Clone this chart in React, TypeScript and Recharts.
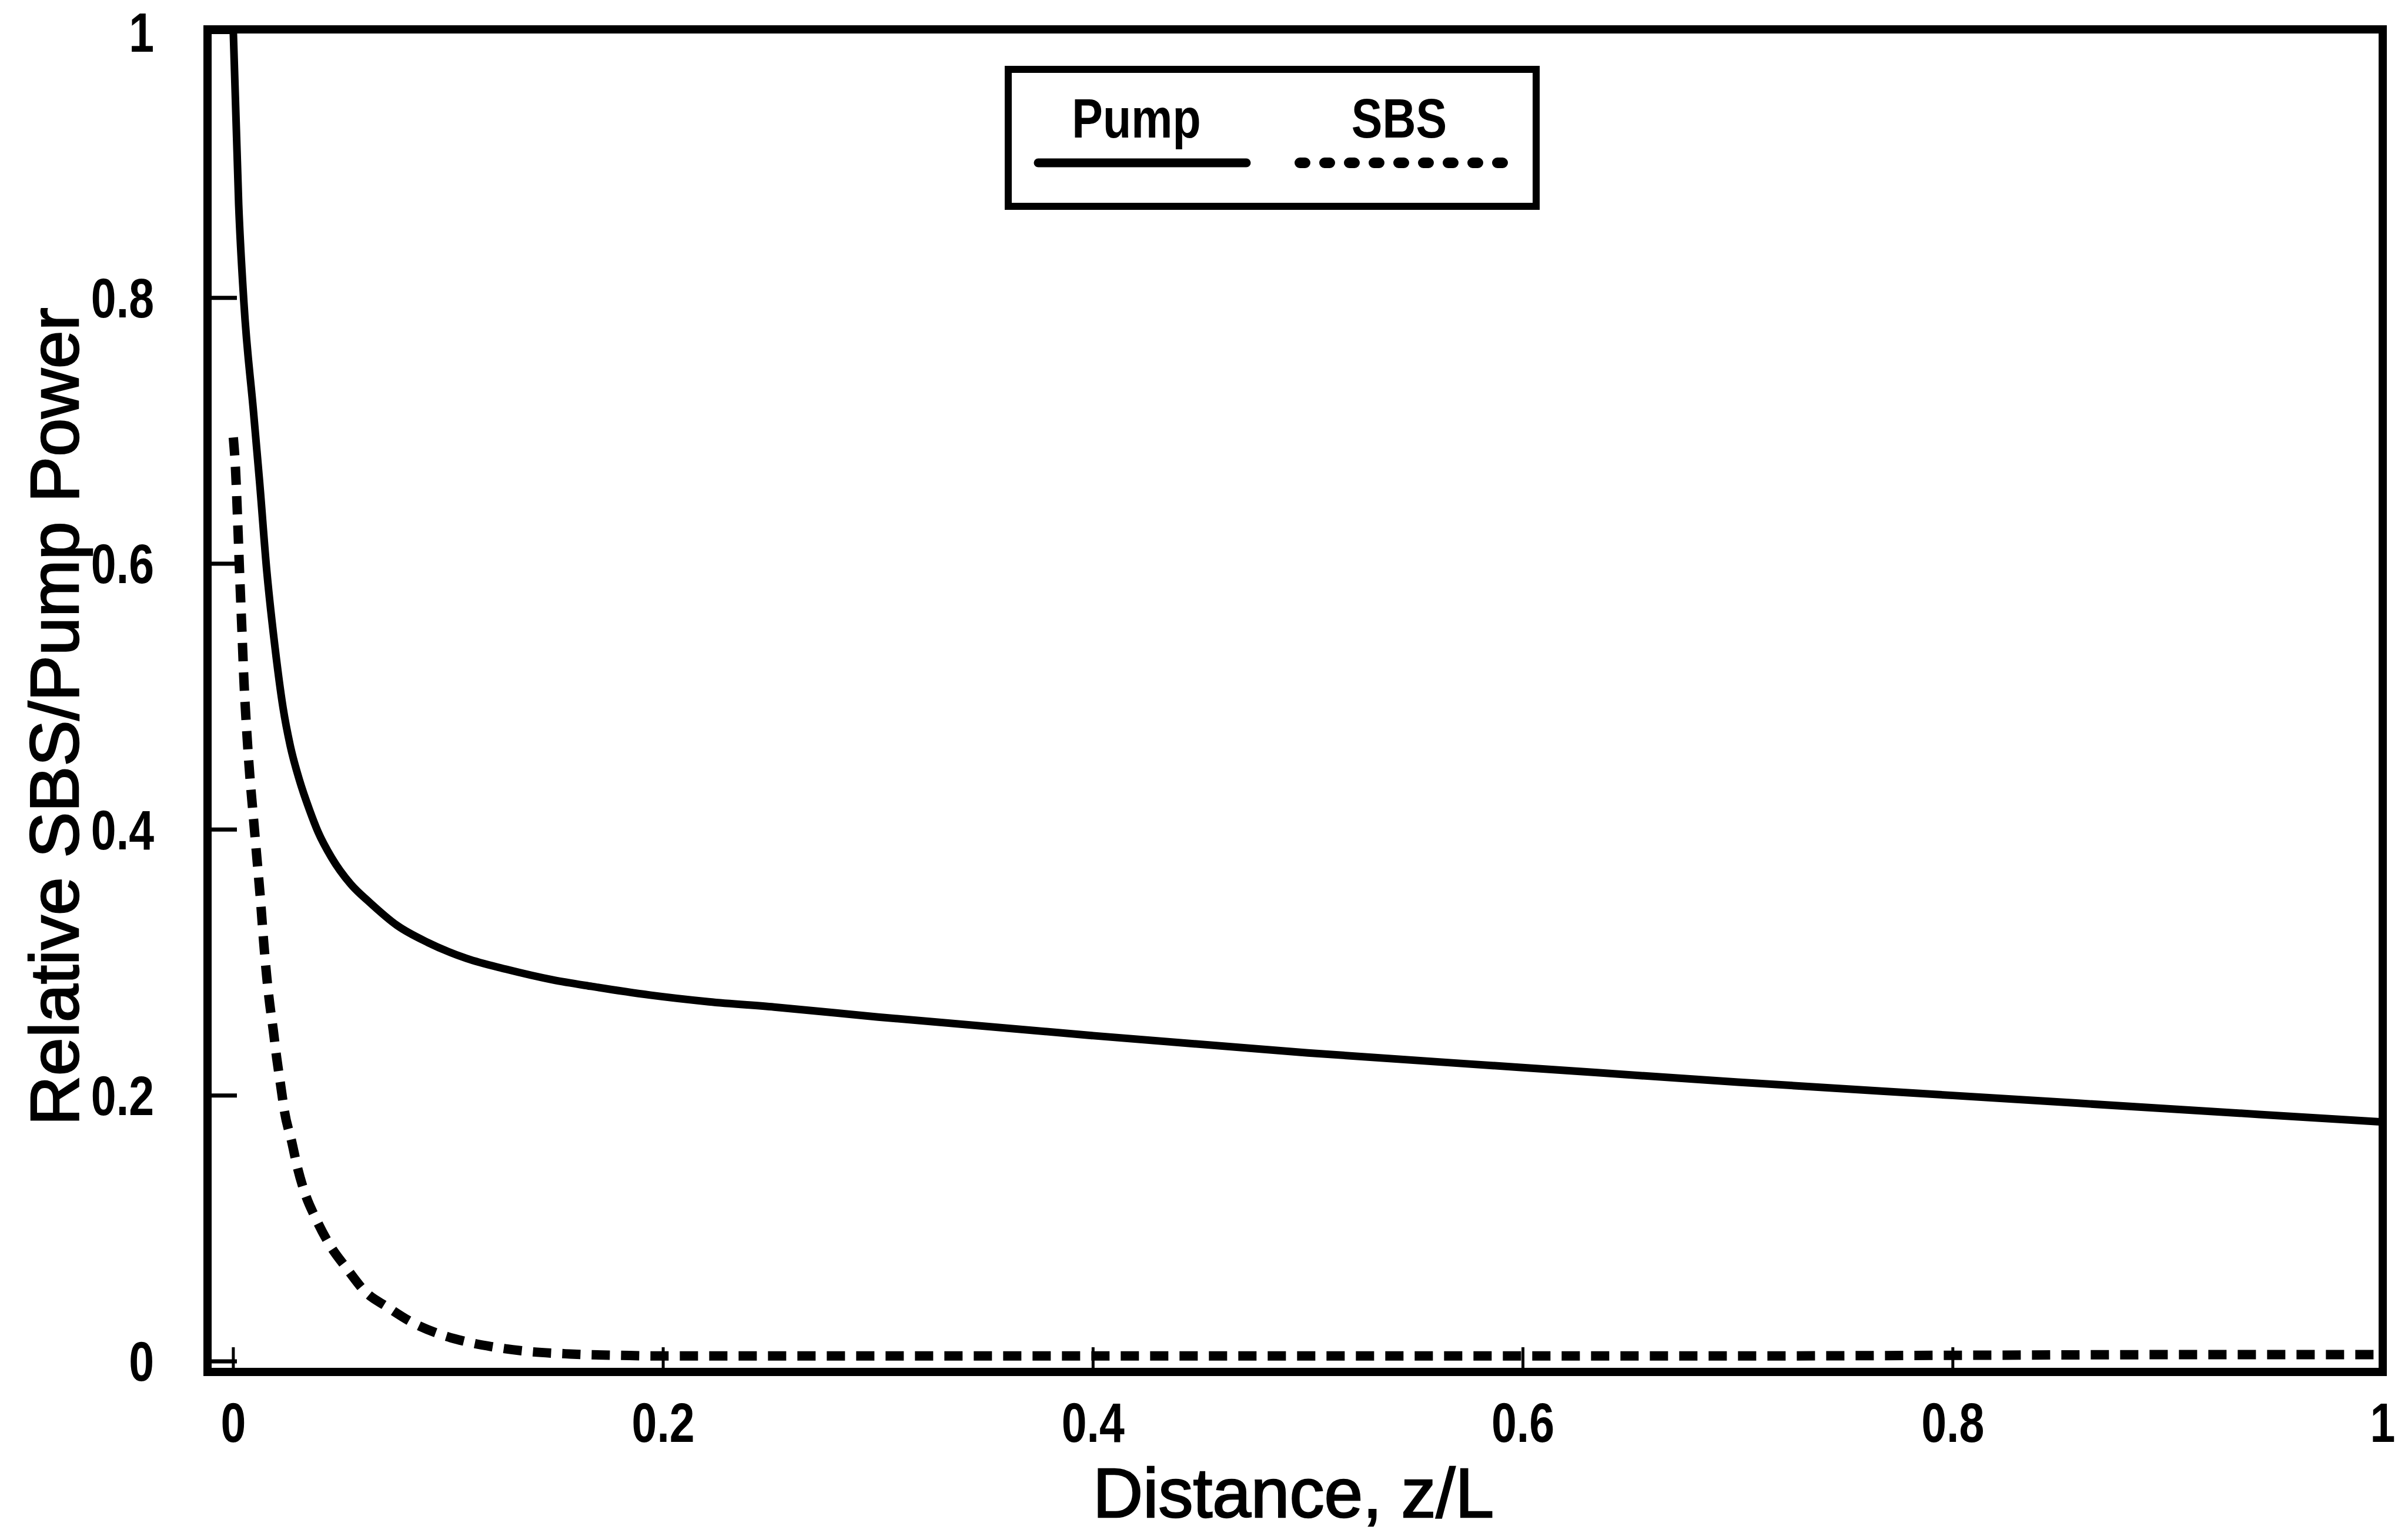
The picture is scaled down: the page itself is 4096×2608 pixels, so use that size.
import React from "react";
import { LineChart, Line, XAxis, YAxis, ReferenceArea, Legend, Label } from "recharts";

// values (z/L vs relative power)
const pumpX = [0, 0.0025, 0.0049, 0.0094, 0.0122, 0.0156, 0.0194, 0.0231, 0.0265, 0.0308, 0.0354, 0.0395, 0.0457, 0.0546, 0.0636, 0.0761, 0.0906, 0.1086, 0.1268, 0.1485, 0.1668, 0.1939, 0.2212, 0.2516, 0.3, 0.4, 0.5, 0.6, 0.7, 0.8, 0.9, 1.0];
const pumpY = [1.0, 0.87, 0.797, 0.714, 0.662, 0.594, 0.537, 0.492, 0.463, 0.437, 0.415, 0.398, 0.379, 0.359, 0.345, 0.328, 0.315, 0.303, 0.295, 0.287, 0.282, 0.2755, 0.2705, 0.2665, 0.259, 0.245, 0.232, 0.221, 0.21, 0.2, 0.19, 0.18];

const sbsX = [0, 0.001, 0.002, 0.003, 0.004, 0.005, 0.0062, 0.0077, 0.0093, 0.011, 0.0125, 0.014, 0.0155, 0.017, 0.0186, 0.0202, 0.022, 0.0238, 0.0272, 0.0298, 0.0332, 0.0385, 0.0447, 0.0527, 0.0616, 0.0715, 0.0823, 0.095, 0.1077, 0.1203, 0.1367, 0.1567, 0.18, 0.2, 0.3, 0.4, 0.5, 0.6, 0.7, 0.8, 0.9, 1.0];
const sbsY = [0.695, 0.672, 0.633, 0.59, 0.55, 0.51, 0.475, 0.44, 0.41, 0.378, 0.35, 0.318, 0.29, 0.268, 0.249, 0.228, 0.208, 0.188, 0.165, 0.146, 0.127, 0.107, 0.088, 0.07, 0.052, 0.041, 0.03, 0.021, 0.015, 0.011, 0.0075, 0.0055, 0.0045, 0.004, 0.004, 0.004, 0.004, 0.004, 0.004, 0.0045, 0.005, 0.005];

const xTicks = [0, 0.2, 0.4, 0.6, 0.8, 1];
const yTicks = [0, 0.2, 0.4, 0.6, 0.8, 1];
const xDomain: [number, number] = [-0.012, 1];
const yDomain: [number, number] = [-0.008, 1.002];

const pumpData = pumpX.map((x, i) => ({ x, y: pumpY[i] }));
const sbsData = sbsX.map((x, i) => ({ x, y: sbsY[i] }));

const FONT = "'Liberation Sans', Arial, Helvetica, sans-serif";

const W = 4096;
const H = 2608;

// the figure uses a condensed Helvetica for numbers and legend, squeeze the regular face
const NarrowTick = (props: any) => {
    const { x, y, payload, textAnchor, verticalAnchor } = props;
    const dy = verticalAnchor === "start" ? "0.71em" : "0.355em";
    return (
        <text
            x={0}
            y={0}
            dy={dy}
            textAnchor={textAnchor}
            transform={`translate(${x},${y}) scale(0.82,1)`}
            style={{ fontFamily: FONT, fontSize: 94, fontWeight: 700, fill: "#000" }}
        >
            {`${payload.value}`}
        </text>
    );
};

// legend slots inside the framed box (text centre, sample start/end)
const legendSlots = [
    { cx: 224, x1: 57, x2: 411 },
    { cx: 671, x1: 502, x2: 850 },
];

const LegendBox = (props: any) => {
    const items = props.payload || [];
    return (
        <div
            style={{
                width: 910,
                height: 245,
                boxSizing: "border-box",
                border: "12px solid #000",
                background: "#fff",
                position: "relative",
            }}
        >
            <svg width={910} height={245} style={{ position: "absolute", left: -12, top: -12, overflow: "visible" }}>
                {items.map((item: any, i: number) => {
                    const slot = legendSlots[i];
                    if (!slot) return null;
                    const dashed = !!(item.payload && item.payload.strokeDasharray);
                    return (
                        <g key={item.value}>
                            <text
                                x={0}
                                y={0}
                                textAnchor="middle"
                                transform={`translate(${slot.cx},122) scale(0.84,1)`}
                                style={{ fontFamily: FONT, fontSize: 94, fontWeight: 700, fill: "#000" }}
                            >
                                {item.value}
                            </text>
                            <line
                                x1={slot.x1}
                                x2={slot.x2}
                                y1={165}
                                y2={165}
                                stroke="#000"
                                strokeWidth={dashed ? 18 : 15}
                                strokeLinecap="round"
                                strokeDasharray={dashed ? "9 33" : undefined}
                            />
                        </g>
                    );
                })}
            </svg>
        </div>
    );
};

const YTitle = (props: any) => {
    const vb = props.viewBox || { x: 0, y: 0, width: 0, height: 0 };
    const x = vb.x + 133;
    const y = vb.y + vb.height / 2 + 27;
    return (
        <text
            x={x}
            y={y}
            transform={`rotate(-90, ${x}, ${y})`}
            textAnchor="middle"
            style={{ fontFamily: FONT, fontSize: 117, fill: "#000", stroke: "#000", strokeWidth: 2.5 }}
        >
            Relative SBS/Pump Power
        </text>
    );
};

const XTitle = (props: any) => {
    const vb = props.viewBox || { x: 0, y: 0, width: 0, height: 0 };
    const x = vb.x + vb.width / 2 - 3;
    const y = vb.y + 247;
    return (
        <text
            x={x}
            y={y}
            textAnchor="middle"
            style={{ fontFamily: FONT, fontSize: 118, fill: "#000", stroke: "#000", strokeWidth: 2.5 }}
        >
            Distance, z/L
        </text>
    );
};

const App: React.FC = () => {
    return (
        <div style={{ position: "absolute", left: 0, top: 0, width: W, height: H, background: "#fff" }}>
            <LineChart width={W} height={H} margin={{ top: 50, right: 43, bottom: 0, left: 0 }}>
                {/* negative tickSize turns the tick marks inward, labels stay outside */}
                <XAxis
                    xAxisId="x"
                    type="number"
                    dataKey="x"
                    domain={xDomain}
                    ticks={xTicks}
                    allowDataOverflow
                    height={274}
                    axisLine={false}
                    tickLine={{ stroke: "#000", strokeWidth: 5 }}
                    tickSize={-42}
                    tickMargin={94}
                    tick={<NarrowTick />}
                >
                    <Label content={XTitle} />
                </XAxis>
                <YAxis
                    yAxisId="y"
                    type="number"
                    domain={yDomain}
                    ticks={yTicks}
                    allowDataOverflow
                    width={353}
                    axisLine={false}
                    tickLine={{ stroke: "#000", strokeWidth: 7 }}
                    tickSize={-50}
                    tickMargin={141}
                    tick={<NarrowTick />}
                >
                    <Label content={YTitle} />
                </YAxis>
                <ReferenceArea
                    xAxisId="x"
                    yAxisId="y"
                    x1={xDomain[0]}
                    x2={xDomain[1]}
                    y1={yDomain[0]}
                    y2={yDomain[1]}
                    fill="none"
                    fillOpacity={0}
                    stroke="#000"
                    strokeWidth={14}
                />
                <Line
                    xAxisId="x"
                    yAxisId="y"
                    data={pumpData}
                    dataKey="y"
                    name="Pump"
                    type="monotone"
                    stroke="#000"
                    strokeWidth={13}
                    dot={false}
                    activeDot={false}
                    isAnimationActive={false}
                />
                <Line
                    xAxisId="x"
                    yAxisId="y"
                    data={sbsData}
                    dataKey="y"
                    name="SBS"
                    type="monotone"
                    stroke="#000"
                    strokeWidth={16}
                    strokeDasharray="31 19"
                    dot={false}
                    activeDot={false}
                    isAnimationActive={false}
                />
                <Legend
                    content={LegendBox}
                    layout="horizontal"
                    verticalAlign="middle"
                    align="center"
                    wrapperStyle={{ left: 1709, top: 112, width: 910, height: 245 }}
                />
            </LineChart>
        </div>
    );
};

export default App;
